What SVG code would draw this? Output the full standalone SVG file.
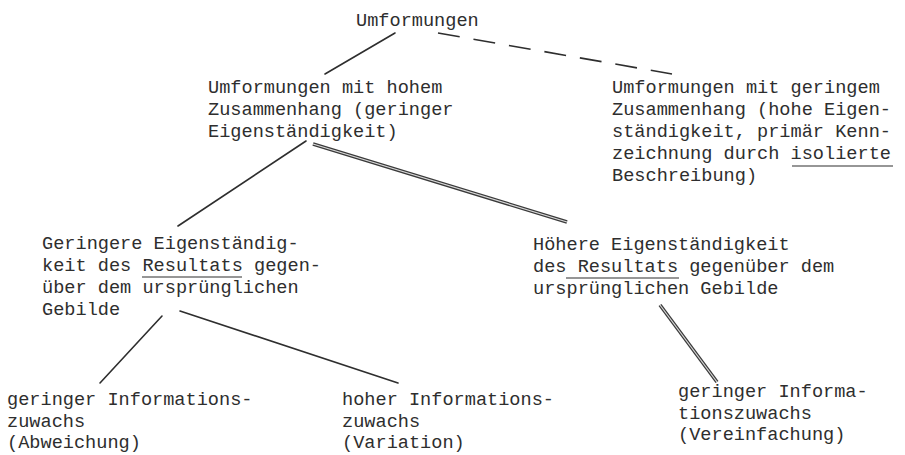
<svg xmlns="http://www.w3.org/2000/svg" width="905" height="455" viewBox="0 0 905 455">
<style>
text{font-family:"Liberation Mono","DejaVu Sans Mono",monospace;font-size:18.6px;fill:#2e2e2e}
.l{stroke:#2e2e2e;stroke-width:1.6;fill:none;stroke-linecap:round}
.d{stroke:#2e2e2e;stroke-width:1.6;fill:none;stroke-dasharray:22 14}
.dbo{stroke:#3a3a3a;stroke-width:3.6;fill:none}
.dbi{stroke:#d8d8d8;stroke-width:1.2;fill:none}
.u{stroke:#2e2e2e;stroke-width:1.2}
</style>
<rect width="905" height="455" fill="#fff"/>
<g id="connectors">
<line class="l" x1="395" y1="33" x2="325" y2="74"/>
<line class="d" x1="438" y1="33" x2="672" y2="74"/>
<line class="l" x1="306" y1="141" x2="178" y2="226"/>
<line class="dbo" x1="313" y1="144" x2="567" y2="222"/>
<line class="dbi" x1="313" y1="144" x2="567" y2="222"/>
<line class="l" x1="162" y1="316" x2="100" y2="383"/>
<line class="l" x1="180" y1="311" x2="398" y2="383"/>
<line class="dbo" x1="660" y1="305" x2="717" y2="382"/>
<line class="dbi" x1="660" y1="305" x2="717" y2="382"/>
</g>
<g id="n-root"><text x="356" y="26">Umformungen</text></g>
<g id="n-hoch">
<text x="208" y="93">Umformungen mit hohem</text>
<text x="208" y="115">Zusammenhang (geringer</text>
<text x="208" y="137">Eigenständigkeit)</text>
</g>
<g id="n-gering">
<text x="612" y="93">Umformungen mit geringem</text>
<text x="612" y="115">Zusammenhang (hohe Eigen-</text>
<text x="612" y="137">ständigkeit, primär Kenn-</text>
<text x="612" y="159">zeichnung durch isolierte</text>
<text x="612" y="181">Beschreibung)</text>
<line class="u" x1="792" y1="166" x2="893" y2="166"/>
</g>
<g id="n-geringere">
<text x="42" y="249">Geringere Eigenständig-</text>
<text x="42" y="271">keit des Resultats gegen-</text>
<text x="42" y="293">über dem ursprünglichen</text>
<text x="42" y="315">Gebilde</text>
<line class="u" x1="142" y1="277" x2="242" y2="277"/>
</g>
<g id="n-hoehere">
<text x="533" y="250">Höhere Eigenständigkeit</text>
<text x="533" y="272">des Resultats gegenüber dem</text>
<text x="533" y="294">ursprünglichen Gebilde</text>
<line class="u" x1="566" y1="278" x2="679" y2="278"/>
</g>
<g id="n-abweichung">
<text x="7" y="405">geringer Informations-</text>
<text x="7" y="427">zuwachs</text>
<text x="7" y="448">(Abweichung)</text>
</g>
<g id="n-variation">
<text x="342" y="405">hoher Informations-</text>
<text x="342" y="427">zuwachs</text>
<text x="342" y="448">(Variation)</text>
</g>
<g id="n-vereinfachung">
<text x="678" y="397">geringer Informa-</text>
<text x="678" y="419">tionszuwachs</text>
<text x="678" y="440">(Vereinfachung)</text>
</g>
</svg>
